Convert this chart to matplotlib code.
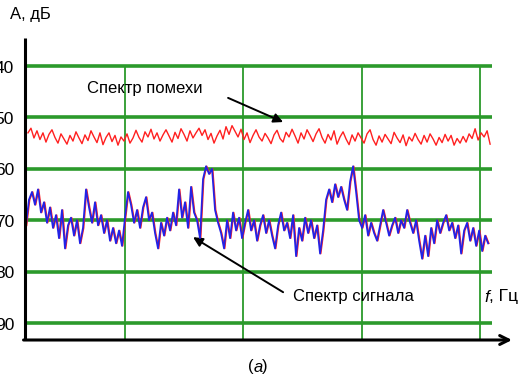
import numpy as np
import matplotlib
matplotlib.use("Agg")
import matplotlib.pyplot as plt
from matplotlib.transforms import blended_transform_factory

plt.rcParams['font.family'] = ['Liberation Sans', 'DejaVu Sans']

# Levels on the vertical axis (dB, increasing downwards)
levels = [40, 50, 60, 70, 80, 90]
level_labels = ['40', '50', '60', '70', '80', '90']
# Frequency grid marks
freq_marks = [1, 2, 3, 4]

# Interference spectrum, dB
noise_db = [
    53.0, 52.1, 54.0, 52.6, 54.3, 53.0, 54.8, 53.3, 52.4, 53.9,
    55.0, 53.2, 54.2, 55.2, 53.5, 54.6, 52.8, 54.0, 55.1, 53.4,
    54.5, 52.6, 53.8, 54.9, 53.0, 55.3, 53.9, 53.0, 54.7, 53.5,
    55.4, 53.8, 54.6, 53.2, 55.0, 54.0, 52.5, 53.9, 54.8, 52.8,
    53.8, 52.3, 54.2, 53.0, 54.6, 53.4, 52.4, 53.6, 54.8, 52.9,
    54.1, 52.2, 53.3, 54.6, 52.6, 54.0, 53.0, 52.1, 53.5, 52.4,
    54.3, 53.1, 55.0, 53.6, 52.5, 54.2, 51.8, 53.3, 51.6, 52.7,
    53.8, 52.3, 54.3, 53.0, 54.9, 53.5, 52.4, 53.8, 54.6, 53.1,
    54.0, 55.1, 53.4, 52.5, 54.1, 54.8, 52.9, 53.8, 52.3, 53.6,
    55.0, 53.0, 54.2, 52.4, 53.5, 54.7, 53.2, 52.2, 53.9, 55.0,
    53.3, 54.4, 52.6, 55.2, 53.8, 52.8, 54.2, 55.3, 53.4, 54.6,
    53.0, 54.0, 55.0, 53.2, 52.4, 54.3, 55.4, 53.6, 54.8, 53.3,
    54.2, 55.1, 52.9, 54.0, 54.9, 53.4, 55.5, 53.8, 54.6, 53.1,
    54.3, 55.2, 53.5, 54.8, 53.2, 54.2, 55.4, 53.9, 54.9, 53.3,
    54.6, 53.5, 55.4, 54.1, 55.0, 53.7, 54.8, 53.2, 54.1, 52.2,
    54.4, 53.0, 53.8, 52.6, 55.2,
]

# Signal spectrum, dB
signal_db = [
    71.0, 66.0, 64.5, 67.0, 64.0, 68.5, 66.5, 70.5, 67.5, 71.5,
    69.0, 73.5, 68.0, 75.5, 71.0, 69.5, 73.0, 70.0, 74.5, 71.5,
    64.0, 67.5, 70.5, 66.5, 71.0, 69.0, 72.5, 70.0, 74.0, 71.5,
    74.5, 72.0, 75.0, 69.5, 64.5, 67.0, 70.5, 68.0, 71.5, 67.5,
    65.5, 70.0, 68.5, 72.5, 75.5, 70.5, 73.0, 69.5, 72.0, 68.5,
    71.0, 64.0, 69.5, 66.5, 71.5, 63.5, 68.5, 70.0, 73.5, 62.0,
    59.5, 61.0, 60.0, 68.0, 70.5, 72.5, 75.5, 70.0, 73.5, 68.5,
    72.0, 69.5, 73.5, 70.5, 68.0, 72.0, 70.0, 74.0, 71.0, 69.0,
    72.5, 70.0, 73.0, 75.5, 71.0, 68.5, 72.0, 70.5, 73.5, 69.0,
    77.0, 71.5, 74.0, 69.5, 72.5, 70.0, 73.5, 71.0, 76.5, 72.0,
    66.0, 64.0, 66.5, 63.0, 65.5, 63.5, 66.0, 68.0, 62.5, 59.5,
    64.5, 70.0, 71.5, 69.0, 73.0, 70.5, 72.5, 74.0, 71.0, 68.0,
    70.5, 73.0, 71.0, 69.5, 72.5, 70.0, 71.5, 68.0, 70.5, 72.5,
    70.0, 74.0, 77.5, 73.0, 77.0, 71.5, 74.5, 70.0, 72.5, 70.5,
    69.0, 72.0, 70.5, 73.5, 71.0, 76.5, 72.0, 70.5, 74.0, 71.5,
    75.0, 72.0, 76.0, 73.0, 74.5,
]

noise_f = np.linspace(0.180, 4.085, len(noise_db))
signal_f = np.linspace(0.163, 4.068, len(signal_db))

W, H = 524, 382
fig = plt.figure(figsize=(W / 100, H / 100), dpi=100)
ax = fig.add_axes([25 / W, 42 / H, 487 / W, 302 / H])
ax.set_xlim(0.155, 4.27)
ax.set_ylim(93.3, 34.55)
for s in ax.spines.values():
    s.set_visible(False)
ax.set_xticks([])
ax.set_yticks([])

green = '#2b9a2b'
ax.hlines(levels, 0.155, 4.10, colors=green, lw=2.6, zorder=1)
ax.vlines(freq_marks, levels[0], 93.3, colors=green, lw=1.3, zorder=1)

# Curves
ax.plot(noise_f, noise_db, color='#ff2020', lw=1.0, zorder=3)
ax.plot(signal_f + 0.006, signal_db, color='#ff2020', lw=1.1, zorder=3)
ax.plot(signal_f, signal_db, color='#2222e6', lw=1.25, zorder=4)

# Axes lines
ax.plot([0, 0], [0, 1], color='black', lw=2.2, transform=ax.transAxes,
        clip_on=False, solid_capstyle='butt', zorder=5)
ax.annotate('', xy=(1.0, 0), xytext=(-0.003, 0), xycoords='axes fraction',
            arrowprops=dict(arrowstyle='->', lw=2.2, color='black',
                            mutation_scale=16, shrinkA=0, shrinkB=0),
            zorder=5)

# Level labels at the left edge
tr = blended_transform_factory(fig.transFigure, ax.transData)
for lv, lab in zip(levels, level_labels):
    ax.text(14 / W, lv + 0.4, lab, transform=tr, ha='right', va='center',
            fontsize=12.5, color='black', clip_on=False)

def fx(px):
    return px / W

def fy(py):
    return 1 - py / H

fig.text(fx(10), fy(15), 'A, дБ', ha='left', va='center', fontsize=12)
fig.text(fx(484), fy(297), 'f', ha='left', va='center', fontsize=12.5,
         style='italic')
fig.text(fx(489), fy(297), ', Гц', ha='left', va='center', fontsize=12.5)
fig.text(fx(254), fy(367), '(', ha='right', va='center', fontsize=12)
fig.text(fx(254), fy(367), 'a', ha='left', va='center', fontsize=12,
         style='italic')
fig.text(fx(262), fy(367), ')', ha='left', va='center', fontsize=12)

ax.text(0.679, 44.4, 'Спектр помехи', ha='left', va='center', fontsize=12)
ax.annotate('', xy=(2.336, 50.9), xytext=(1.871, 46.2),
            arrowprops=dict(arrowstyle='-|>', lw=1.4, color='black',
                            mutation_scale=14, shrinkA=0, shrinkB=0))
ax.text(2.42, 84.9, 'Спектр сигнала', ha='left', va='center', fontsize=12)
ax.annotate('', xy=(1.575, 73.3), xytext=(2.336, 84.0),
            arrowprops=dict(arrowstyle='-|>', lw=1.4, color='black',
                            mutation_scale=14, shrinkA=0, shrinkB=0))

fig.savefig('out.png', dpi=100)
